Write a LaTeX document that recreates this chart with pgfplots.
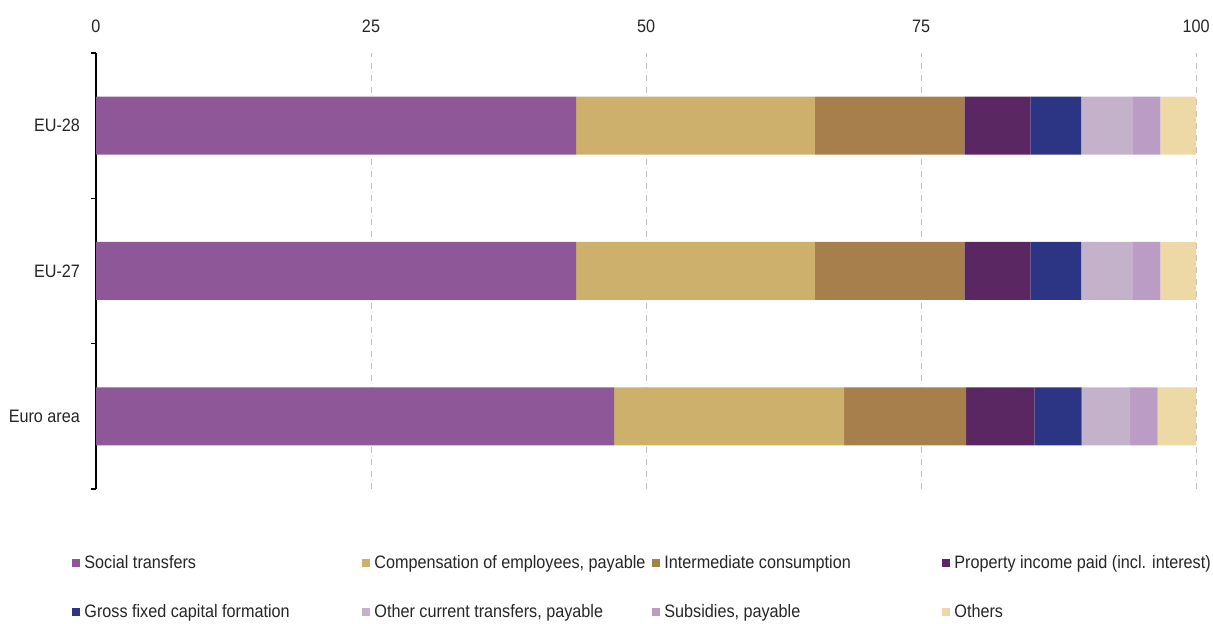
\documentclass[border=0pt]{standalone}
\usepackage{fontspec}
\setmainfont{Liberation Sans}[FakeStretch=0.9]
\usepackage{pgfplots}
\pgfplotsset{compat=1.18}
\definecolor{cSoc}{RGB}{142,88,152}
\definecolor{cComp}{RGB}{205,176,107}
\definecolor{cInt}{RGB}{166,127,76}
\definecolor{cProp}{RGB}{90,39,99}
\definecolor{cGfcf}{RGB}{44,53,131}
\definecolor{cOth}{RGB}{196,177,202}
\definecolor{cSub}{RGB}{186,156,197}
\definecolor{cRest}{RGB}{237,217,166}
\begin{document}
\begin{tikzpicture}[font=\fontsize{9pt}{11pt}\selectfont]
\useasboundingbox (0,0) rectangle (606.5pt,312pt);
\begin{axis}[
  at={(48pt,67.5pt)}, anchor=south west,
  scale only axis, width=550pt, height=218pt,
  xbar stacked, bar width=29pt,
  xmin=0, xmax=100, ymin=-0.5, ymax=2.5,
  xtick={0,25,50,75,100},
  ytick={0,1,2}, yticklabels={Euro area,EU-27,EU-28},
  extra y ticks={-0.5,0.5,1.5,2.5}, extra y tick labels={},
  extra y tick style={major tick length=2.5pt, tick align=outside, major tick style={black, line width=0.6pt}, grid=none},
  major tick length=0pt,
  separate axis lines,
  axis x line*=top, x axis line style={draw=none},
  axis y line*=left, y axis line style={black, line width=0.6pt},
  xmajorgrids, major grid style={dashed, black!25, line width=0.5pt},
  /pgf/number format/assume math mode=true,
  xticklabel style={yshift=6.5pt, text=black!85},
  yticklabel style={xshift=-4.5pt, text=black!85},
  legend columns=4,
  legend image code/.code={\fill[#1] (0pt,-2pt) rectangle (4pt,2pt);},
  legend style={draw=none, at={(0,0)}, anchor=north west, xshift=-12pt, yshift=-32.5pt,
    inner sep=0pt, row sep=15.5pt,
    nodes={inner sep=0pt, text height=7pt, text depth=2pt, anchor=west, text=black!85},
    /tikz/every odd column/.append style={column sep=2pt}},
]
\addplot[fill=cSoc, draw=none] coordinates {(47.1,0) (43.65,1) (43.65,2)};
\addlegendentry{\makebox[139pt][l]{Social transfers}}
\addplot[fill=cComp, draw=none] coordinates {(20.9,0) (21.7,1) (21.7,2)};
\addlegendentry{\makebox[139pt][l]{Compensation of employees, payable}}
\addplot[fill=cInt, draw=none] coordinates {(11.1,0) (13.6,1) (13.6,2)};
\addlegendentry{\makebox[139pt][l]{Intermediate consumption}}
\addplot[fill=cProp, draw=none] coordinates {(6.2,0) (6.0,1) (6.0,2)};
\addlegendentry{\makebox[139pt][l]{Property income paid (incl. interest)}}
\addplot[fill=cGfcf, draw=none] coordinates {(4.3,0) (4.6,1) (4.6,2)};
\addlegendentry{\makebox[139pt][l]{Gross fixed capital formation}}
\addplot[fill=cOth, draw=none] coordinates {(4.4,0) (4.7,1) (4.7,2)};
\addlegendentry{\makebox[139pt][l]{Other current transfers, payable}}
\addplot[fill=cSub, draw=none] coordinates {(2.5,0) (2.5,1) (2.5,2)};
\addlegendentry{\makebox[139pt][l]{Subsidies, payable}}
\addplot[fill=cRest, draw=none] coordinates {(3.5,0) (3.25,1) (3.25,2)};
\addlegendentry{\makebox[139pt][l]{Others}}
\end{axis}
\end{tikzpicture}
\end{document}
